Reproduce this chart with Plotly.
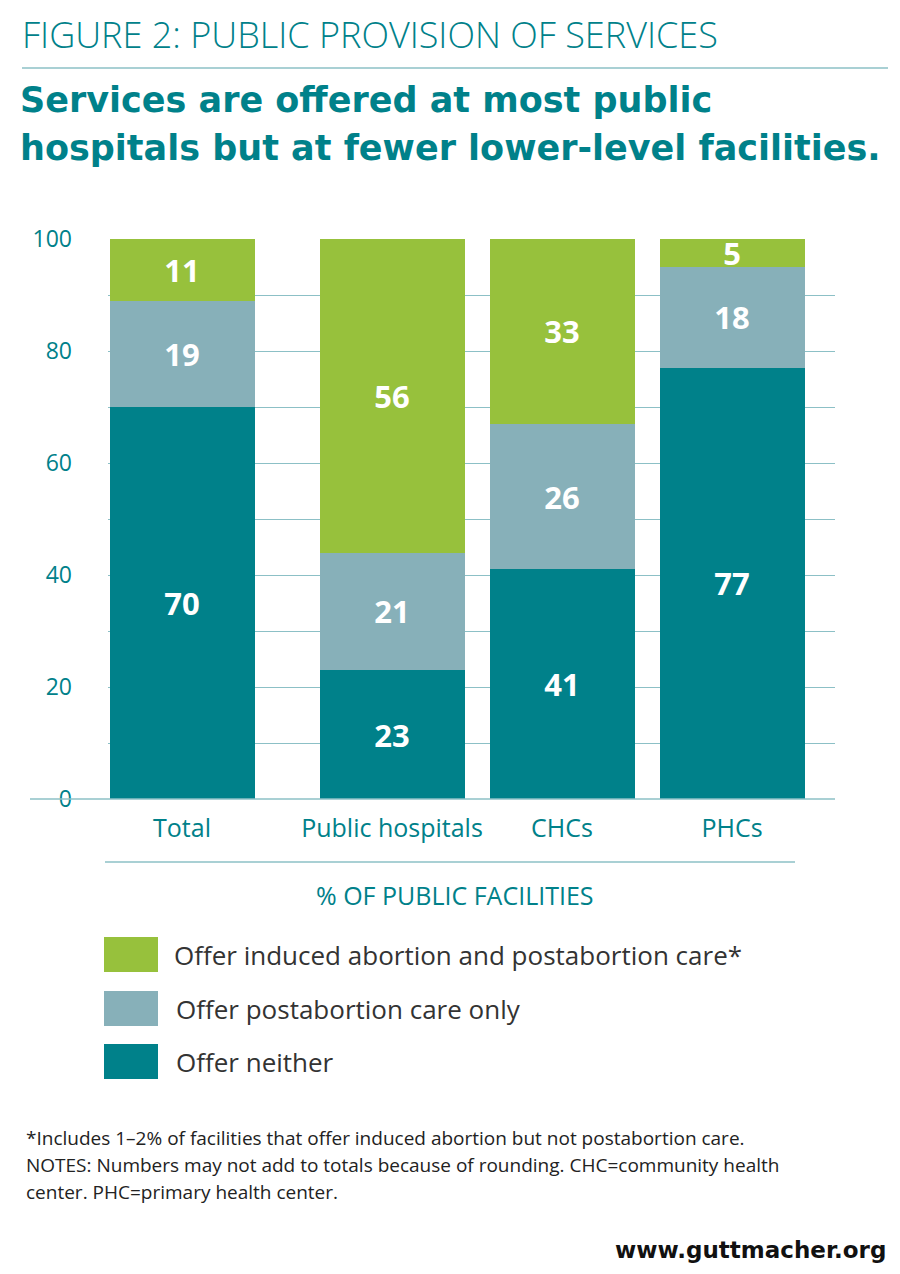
import plotly.graph_objects as go

categories = ["Total", "Public hospitals", "CHCs", "PHCs"]
cat_pos = [182, 392, 562, 732]
neither = [70, 23, 41, 77]
post_only = [19, 21, 26, 18]
induced = [11, 56, 33, 5]
yticks = list(range(0, 101, 10))
yticklabels = [str(v) if v % 20 == 0 else "" for v in yticks]

TEAL = "#00818a"; GRAY = "#87b0b9"; GREEN = "#97c13c"; GRID = "#8cc0c6"
L, R, T, B = 108, 835, 239, 799
def px(x): return (x - L) / (R - L)
def py(y): return (B - y) / (B - T)

F = "Open Sans"
fig = go.Figure()
for name, vals, col in [("Offer neither", neither, TEAL), ("Offer postabortion care only", post_only, GRAY),
                        ("Offer induced abortion and postabortion care*", induced, GREEN)]:
    fig.add_bar(x=cat_pos, y=vals, width=145, marker=dict(color=col, line=dict(width=0)), name=name,
                text=[str(v) for v in vals], textposition="inside", insidetextanchor="middle", textangle=0,
                constraintext="none",
                textfont=dict(family=F, size=31, color="white", weight="bold"))

fig.update_layout(
    barmode="stack", width=900, height=1274, showlegend=False,
    margin=dict(l=L, r=900 - R, t=T, b=1274 - B),
    plot_bgcolor="white", paper_bgcolor="white",
    xaxis=dict(range=[L, R], tickvals=cat_pos, ticktext=categories, showgrid=False, zeroline=False,
               tickfont=dict(family=F, size=25, color=TEAL), ticks="", ticklabelstandoff=12),
    yaxis=dict(range=[0, 100], tickvals=yticks, ticktext=yticklabels, gridcolor=GRID, gridwidth=1.3,
               zeroline=False, tickfont=dict(family=F, size=23, color=TEAL), ticklabelstandoff=35),
    font=dict(family=F),
)
shapes = [
    dict(type="line", xref="paper", yref="paper", x0=px(30), x1=1, y0=0, y1=0, line=dict(color=GRID, width=1.5)),
    dict(type="line", xref="paper", yref="paper", x0=px(22), x1=px(888), y0=py(68), y1=py(68), line=dict(color=GRID, width=1.5)),
    dict(type="line", xref="paper", yref="paper", x0=px(105), x1=px(795), y0=py(862), y1=py(862), line=dict(color=GRID, width=1.5)),
]
for (y0, y1, c) in [(937, 972, GREEN), (991, 1026, GRAY), (1044, 1079, TEAL)]:
    shapes.append(dict(type="rect", xref="paper", yref="paper", x0=px(104), x1=px(158), y0=py(y1), y1=py(y0),
                       fillcolor=c, line=dict(width=0)))
fig.update_layout(shapes=shapes)

def ann(text, x, y, size, color, weight="normal", xanchor="left", family=F):
    fig.add_annotation(text=text, xref="paper", yref="paper", x=px(x), y=py(y), xanchor=xanchor, yanchor="middle",
                       showarrow=False, font=dict(family=family, size=size, color=color, weight=weight))

ann("FIGURE 2: PUBLIC PROVISION OF SERVICES", 20, 35, 36, TEAL, weight=300)
ann("Services are offered at most public", 18, 100, 35, TEAL, "bold", family="DejaVu Sans")
ann("hospitals but at fewer lower-level facilities.", 18, 148, 35, TEAL, "bold", family="DejaVu Sans")
ann("% OF PUBLIC FACILITIES", 455, 895, 25, TEAL, xanchor="center")
ann("Offer induced abortion and postabortion care*", 172, 955, 26, "#333333")
ann("Offer postabortion care only", 174, 1009, 26, "#333333")
ann("Offer neither", 174, 1062, 26, "#333333")
ann("*Includes 1–2% of facilities that offer induced abortion but not postabortion care.", 24, 1138, 19, "#222222")
ann("NOTES: Numbers may not add to totals because of rounding. CHC=community health", 24, 1165, 19, "#222222")
ann("center. PHC=primary health center.", 24, 1192, 19, "#222222")
ann("www.guttmacher.org", 888, 1250, 23, "#111111", "bold", xanchor="right", family="DejaVu Sans")

fig.write_html("out.html", config={"displayModeBar": False}, post_script="document.body.style.margin='0';")
